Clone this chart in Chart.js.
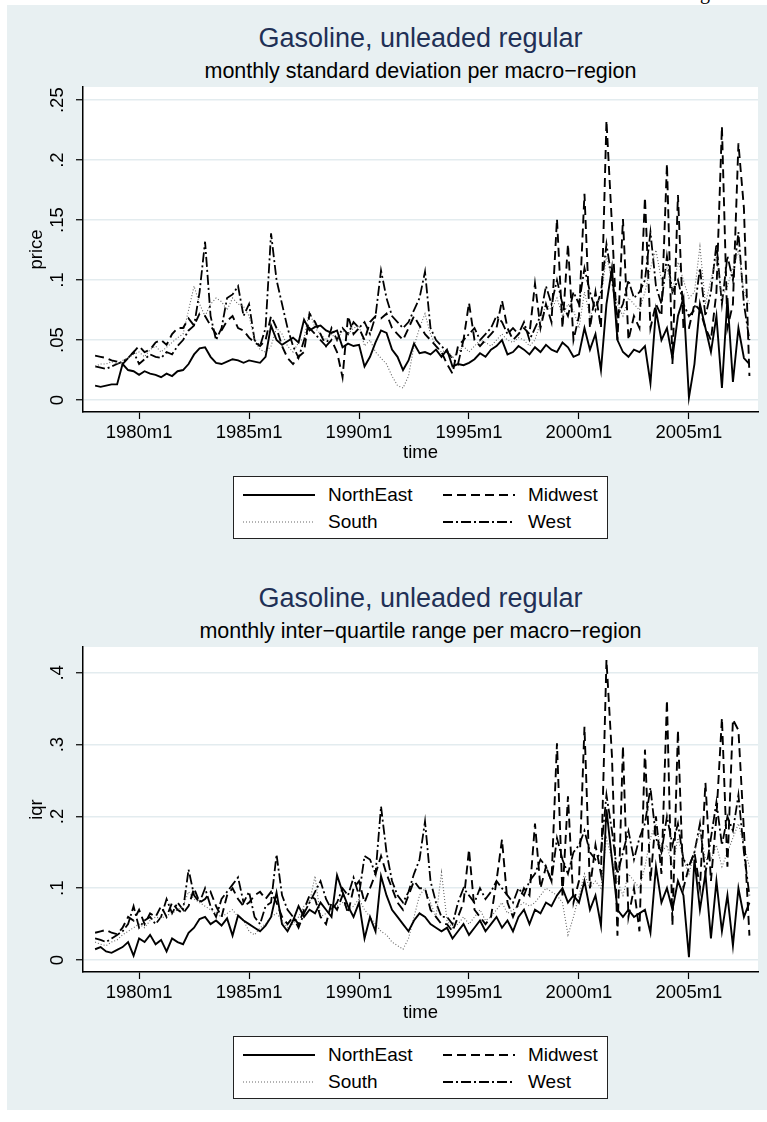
<!DOCTYPE html>
<html>
<head>
<meta charset="utf-8">
<title>Gasoline, unleaded regular</title>
<script src="https://cdn.jsdelivr.net/npm/chart.js@4.4.0/dist/chart.umd.min.js"></script>
<style>
  body { margin: 0; background: #fff; font-family: "Liberation Sans", Arial, sans-serif; }
  #page { position: relative; width: 767px; height: 1122px; overflow: hidden; }
  #bg { position: absolute; left: 7px; top: 5px; width: 760px; height: 1105px; background: #e8f0f2; }
  .frag { position: absolute; left: 700px; top: -19px; font: 20px "Liberation Serif", serif; color: #000; }
  .title { position: absolute; left: 83px; width: 675px; text-align: center; white-space: nowrap; }
  .t1 { font-size: 27px; line-height: 27px; color: #1f3056; }
  .t2 { font-size: 21.5px; line-height: 21.5px; color: #000; }
  .plot { position: absolute; left: 7px; width: 760px; height: 400px; }
  .legend { position: absolute; left: 233px; width: 373px; height: 61px; background: #fff; border: 1.5px solid #222; }
  .legend .item { position: absolute; font-size: 19px; line-height: 22px; color: #000; white-space: nowrap; }
  .legend svg { position: absolute; }
</style>
</head>
<body>
<div id="page">
  <div id="bg"></div>
  <div class="frag">g</div>

  <div class="title t1" style="top:25px">Gasoline, unleaded regular</div>
  <div class="title t2" style="top:61px">monthly standard deviation per macro−region</div>
  <canvas id="sdChart" class="plot" width="760" height="400" style="top:80px"></canvas>
  <div id="sdLegend" class="legend" style="top:476px"></div>

  <div class="title t1" style="top:585px">Gasoline, unleaded regular</div>
  <div class="title t2" style="top:621px">monthly inter−quartile range per macro−region</div>
  <canvas id="iqrChart" class="plot" width="760" height="400" style="top:640px"></canvas>
  <div id="iqrLegend" class="legend" style="top:1036px"></div>
</div>

<script>
// categories
var regions = ['NorthEast', 'Midwest', 'South', 'West'];
var quarters = [];
for (var yr = 1978; yr < 2008; yr++) {
    for (var q = 0; q < 4; q++) quarters.push(yr + q / 4);
}

var tickYears = [1980, 1985, 1990, 1995, 2000, 2005];
var xTickLabels = ['1980m1', '1985m1', '1990m1', '1995m1', '2000m1', '2005m1'];
var sdTicks = [0, 0.05, 0.1, 0.15, 0.2, 0.25];
var sdTickLabels = ['0', '.05', '.1', '.15', '.2', '.25'];
var iqrTicks = [0, 0.1, 0.2, 0.3, 0.4];
var iqrTickLabels = ['0', '.1', '.2', '.3', '.4'];

// standard deviation, one row per year (4 quarters)
var neSd = [
    .012,.011,.012,.013, .013,.030,.025,.024, .021,.024,.022,.021, .019,.022,.020,.024,
    .025,.030,.038,.043, .044,.036,.031,.030, .032,.034,.033,.031, .033,.032,.031,.036,
    .062,.050,.046,.049, .052,.048,.067,.058, .061,.062,.058,.056, .058,.044,.047,.045,
    .046,.028,.036,.048, .058,.056,.042,.036, .025,.033,.047,.039, .040,.038,.042,.036,
    .042,.028,.030,.029, .031,.034,.039,.036, .042,.045,.050,.038, .040,.045,.042,.038,
    .044,.040,.046,.042, .040,.048,.044,.036, .038,.060,.042,.055, .025,.080,.110,.050,
    .040,.036,.042,.040, .045,.014,.075,.050, .060,.035,.070,.085, .002,.030,.080,.060,
    .040,.070,.010,.085, .015,.060,.035,.030
];
var mwSd = [
    .037,.036,.035,.033, .032,.030,.035,.040, .045,.040,.042,.048, .050,.046,.055,.060,
    .060,.068,.062,.072, .070,.062,.055,.058, .066,.070,.060,.058, .052,.048,.045,.050,
    .070,.060,.045,.035, .030,.036,.040,.072, .065,.055,.045,.050, .040,.019,.070,.055,
    .060,.050,.065,.070, .068,.072,.060,.055, .050,.060,.070,.062, .055,.050,.045,.040,
    .030,.022,.045,.050, .081,.050,.045,.050, .055,.060,.083,.060, .050,.055,.060,.055,
    .097,.060,.080,.065, .151,.060,.130,.050, .070,.172,.060,.090, .060,.233,.146,.050,
    .151,.050,.070,.060, .169,.060,.080,.070, .197,.030,.171,.060, .060,.080,.075,.060,
    .050,.090,.228,.060, .080,.214,.160,.020
];
var soSd = [
    .028,.030,.030,.032, .030,.033,.035,.038, .040,.036,.042,.045, .040,.044,.048,.052,
    .055,.075,.095,.080, .070,.080,.085,.082, .075,.085,.080,.078, .070,.050,.042,.040,
    .045,.060,.055,.045, .040,.048,.052,.074, .060,.055,.050,.055, .050,.058,.055,.060,
    .062,.045,.050,.040, .035,.030,.020,.012, .010,.020,.045,.060, .072,.055,.045,.040,
    .042,.035,.040,.045, .040,.045,.050,.048, .045,.050,.055,.050, .048,.052,.050,.045,
    .050,.065,.080,.075, .085,.070,.080,.075, .060,.090,.070,.080, .085,.120,.100,.080,
    .070,.085,.080,.075, .090,.110,.125,.100, .110,.090,.115,.100, .085,.090,.128,.080,
    .100,.120,.085,.095, .110,.125,.090,.080
];
var weSd = [
    .028,.027,.026,.028, .030,.032,.035,.040, .030,.034,.038,.036, .035,.040,.038,.045,
    .050,.058,.062,.090, .132,.070,.050,.060, .085,.088,.095,.070, .080,.050,.045,.060,
    .139,.100,.080,.060, .045,.035,.050,.060, .055,.050,.045,.060, .050,.060,.055,.065,
    .060,.065,.055,.070, .108,.085,.070,.065, .060,.065,.075,.085, .107,.060,.050,.045,
    .040,.035,.030,.050, .055,.060,.050,.055, .060,.070,.065,.055, .060,.055,.065,.050,
    .060,.070,.095,.080, .100,.080,.070,.090, .080,.110,.090,.075, .090,.130,.100,.070,
    .080,.100,.085,.090, .100,.140,.095,.080, .120,.090,.100,.080, .070,.075,.110,.070,
    .090,.130,.080,.120, .100,.140,.080,.050
];

// inter-quartile range
var neIqr = [
    .015,.018,.012,.010, .014,.018,.025,.006, .030,.025,.035,.022, .028,.012,.030,.025,
    .022,.038,.045,.057, .060,.050,.055,.048, .058,.034,.062,.055, .050,.045,.040,.048,
    .060,.094,.050,.040, .055,.075,.060,.070, .065,.080,.070,.060, .118,.095,.075,.060,
    .080,.030,.060,.040, .117,.090,.070,.060, .050,.040,.055,.065, .060,.050,.045,.040,
    .045,.030,.040,.050, .035,.045,.055,.040, .050,.060,.045,.055, .040,.060,.070,.050,
    .070,.065,.080,.075, .090,.100,.080,.090, .080,.110,.070,.090, .048,.210,.140,.070,
    .060,.070,.060,.065, .070,.038,.130,.080, .100,.070,.110,.090, .004,.140,.070,.120,
    .030,.110,.040,.090, .020,.100,.060,.080
];
var mwIqr = [
    .038,.040,.042,.038, .036,.045,.060,.055, .070,.050,.065,.060, .075,.060,.080,.070,
    .065,.075,.100,.080, .085,.095,.075,.060, .090,.100,.085,.075, .080,.090,.095,.085,
    .095,.080,.060,.050, .060,.050,.070,.090, .085,.060,.050,.080, .070,.090,.065,.100,
    .110,.080,.100,.120, .145,.120,.100,.080, .070,.090,.110,.100, .100,.070,.060,.050,
    .050,.040,.060,.080, .154,.070,.060,.050, .060,.110,.168,.080, .060,.080,.100,.090,
    .190,.100,.130,.110, .302,.090,.228,.080, .110,.325,.100,.160, .120,.418,.284,.034,
    .298,.060,.100,.040, .293,.110,.200,.120, .362,.048,.320,.100, .130,.150,.100,.247,
    .110,.200,.337,.130, .335,.320,.180,.034
];
var soIqr = [
    .025,.022,.020,.025, .028,.035,.040,.045, .050,.045,.055,.060, .058,.062,.065,.070,
    .075,.095,.085,.080, .075,.070,.065,.060, .065,.070,.060,.055, .040,.035,.045,.050,
    .060,.065,.055,.045, .050,.060,.075,.080, .117,.060,.065,.072, .075,.080,.070,.075,
    .085,.070,.060,.050, .040,.035,.025,.020, .015,.030,.060,.090, .100,.080,.060,.122,
    .055,.045,.050,.060, .050,.060,.070,.055, .060,.070,.080,.065, .070,.075,.080,.075,
    .080,.090,.100,.095, .090,.080,.035,.060, .090,.120,.100,.110, .100,.170,.140,.110,
    .090,.120,.110,.100, .130,.170,.190,.150, .160,.130,.170,.140, .120,.150,.180,.140,
    .140,.160,.130,.150, .170,.190,.160,.130
];
var weIqr = [
    .030,.028,.025,.030, .035,.040,.050,.075, .045,.055,.060,.050, .060,.085,.065,.080,
    .070,.126,.090,.080, .100,.075,.060,.085, .095,.105,.115,.080, .095,.060,.050,.075,
    .080,.147,.090,.070, .060,.045,.065,.080, .095,.110,.085,.070, .080,.100,.090,.115,
    .090,.145,.140,.120, .214,.150,.110,.090, .080,.095,.120,.140, .193,.110,.080,.060,
    .060,.050,.080,.100, .090,.080,.100,.085, .095,.110,.100,.090, .080,.100,.090,.110,
    .120,.140,.130,.110, .170,.140,.120,.150, .160,.180,.150,.140, .150,.230,.180,.120,
    .150,.180,.140,.170, .190,.240,.170,.150, .200,.160,.190,.140, .130,.150,.190,.120,
    .170,.220,.160,.200, .180,.230,.150,.090
];

var FONT = '"Liberation Sans", Arial, sans-serif';

// line looks for NorthEast, Midwest, South, West
var lineStyles = [
    { color: '#000', width: 1.9, dash: [] },
    { color: '#000', width: 1.9, dash: [9, 5] },
    { color: '#666', width: 1.1, dash: [1, 2] },
    { color: '#000', width: 1.8, dash: [10, 3, 2, 3] }
];

// white plot region on the bluish page
var plotBackground = {
    id: 'plotBackground',
    beforeDraw: function (chart) {
        var a = chart.chartArea, ctx = chart.ctx;
        ctx.save();
        ctx.fillStyle = '#fff';
        ctx.fillRect(a.left, a.top, a.right - a.left, a.bottom - a.top);
        ctx.restore();
    }
};

// stata style y labels, turned on their side
var yLabelsPlugin = {
    id: 'yLabels',
    afterDraw: function (chart, args, opts) {
        var s = chart.scales.y, ctx = chart.ctx;
        ctx.save();
        ctx.font = '18.5px ' + FONT;
        ctx.fillStyle = '#000';
        ctx.textAlign = 'center';
        ctx.textBaseline = 'middle';
        s.ticks.forEach(function (t, i) {
            ctx.save();
            ctx.translate(opts.x, s.getPixelForValue(t.value));
            ctx.rotate(-Math.PI / 2);
            ctx.fillText(opts.labels[i], 0, 0);
            ctx.restore();
        });
        ctx.restore();
    }
};

function makeChart(canvasId, legendId, series, yMin, yMax, yTicks, yLabels, yTitle) {
    var datasets = regions.map(function (name, i) {
        return {
            label: name,
            data: quarters.map(function (t, k) { return { x: t, y: series[i][k] }; }),
            borderColor: lineStyles[i].color,
            borderWidth: lineStyles[i].width,
            borderDash: lineStyles[i].dash,
            pointRadius: 0,
            tension: 0,
            fill: false
        };
    });

    var chart = new Chart(document.getElementById(canvasId), {
        type: 'line',
        data: { datasets: datasets },
        options: {
            responsive: false,
            animation: false,
            layout: { padding: { top: 7, right: 9, left: 0, bottom: 0 } },
            plugins: {
                legend: { display: false },
                tooltip: { enabled: false },
                yLabels: { labels: yLabels, x: 51 }
            },
            scales: {
                x: {
                    type: 'linear',
                    min: 1977.45,
                    max: 2008.14,
                    afterBuildTicks: function (s) { s.ticks = tickYears.map(function (v) { return { value: v }; }); },
                    afterFit: function (s) { s.height = 68; },
                    grid: { drawOnChartArea: false, drawTicks: true, tickLength: 7, tickColor: '#000', tickWidth: 1.2 },
                    border: { color: '#000', width: 1.5 },
                    ticks: {
                        color: '#000', padding: 3, maxRotation: 0, autoSkip: false,
                        font: { size: 18.5, family: FONT },
                        callback: function (v, i) { return xTickLabels[i]; }
                    },
                    title: { display: true, text: 'time', color: '#000', font: { size: 18.5, family: FONT }, padding: { top: 0, bottom: 16 } }
                },
                y: {
                    min: yMin,
                    max: yMax,
                    afterBuildTicks: function (s) { s.ticks = yTicks.map(function (v) { return { value: v }; }); },
                    afterFit: function (s) { s.width = 76; },
                    grid: { color: '#e3ecef', lineWidth: 1.5, tickLength: 7, tickColor: '#000', tickWidth: 1.2 },
                    border: { color: '#000', width: 1.5 },
                    ticks: { display: false },
                    title: { display: true, text: yTitle, color: '#000', font: { size: 18.5, family: FONT }, padding: { top: 19, bottom: 0 } }
                }
            }
        },
        plugins: [plotBackground, yLabelsPlugin]
    });

    // legend box in two columns, built from the datasets
    var box = document.getElementById(legendId);
    var spots = [[9, 18], [209, 18], [9, 45], [209, 45]];
    chart.data.datasets.forEach(function (ds, i) {
        var sx = spots[i][0], cy = spots[i][1];
        var svg = '<svg width="72" height="8" style="left:' + sx + 'px;top:' + (cy - 4) + 'px">' +
            '<line x1="0" y1="4" x2="72" y2="4" stroke="' + ds.borderColor + '" stroke-width="' + ds.borderWidth +
            '" stroke-dasharray="' + (ds.borderDash.length ? ds.borderDash.join(' ') : 'none') + '"/></svg>';
        box.insertAdjacentHTML('beforeend', svg +
            '<div class="item" style="left:' + (sx + 85) + 'px;top:' + (cy - 11) + 'px">' + ds.label + '</div>');
    });
    return chart;
}

makeChart('sdChart', 'sdLegend', [neSd, mwSd, soSd, weSd], -0.01, 0.261, sdTicks, sdTickLabels, 'price');
makeChart('iqrChart', 'iqrLegend', [neIqr, mwIqr, soIqr, weIqr], -0.0167, 0.436, iqrTicks, iqrTickLabels, 'iqr');
</script>
</body>
</html>
